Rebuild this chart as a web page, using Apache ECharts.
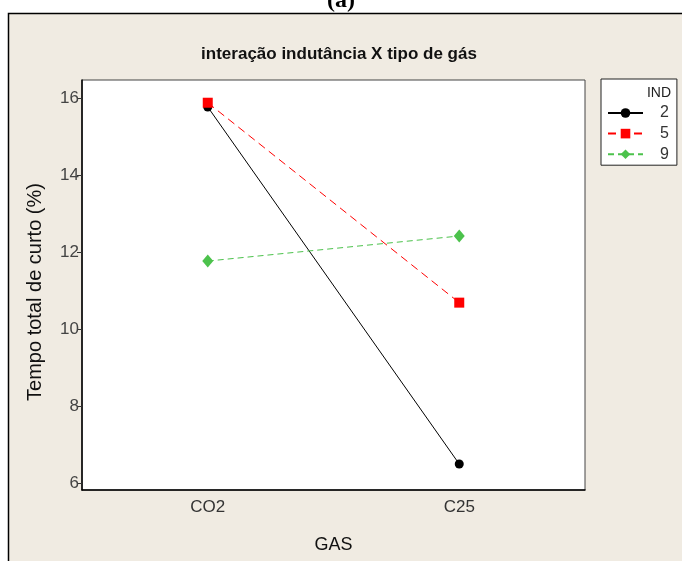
<!DOCTYPE html>
<html>
<head>
<meta charset="utf-8">
<script src="https://cdn.jsdelivr.net/npm/echarts@6/dist/echarts.min.js"></script>
<style>html,body{margin:0;padding:0;background:#fff;}#c{width:682px;height:561px;}</style>
</head>
<body>
<div id="c"></div>
<script>
var categories = ['CO2', 'C25'];
var ind2 = [15.77, 6.50];
var ind5 = [15.88, 10.69];
var ind9 = [11.77, 12.42];
var yTicks = [6, 8, 10, 12, 14, 16];

var NARROW = '"Liberation Sans Narrow",sans-serif';
var SANS = '"Liberation Sans",sans-serif';
var chart = echarts.init(document.getElementById('c'));
chart.setOption({
  backgroundColor: '#ffffff',
  animation: false,
  graphic: [
    {type: 'rect', z: -10, shape: {x: 8.5, y: 13.5, width: 700, height: 600},
     style: {fill: '#f0ebe2', stroke: '#000', lineWidth: 1.5}},
    {type: 'text', left: 'center', top: -11, z: 10,
     style: {text: '(a)', font: 'bold 24px "Liberation Serif",serif', fill: '#000'}},
    {type: 'text', x: 671, y: 93, z: 10,
     style: {text: 'IND', font: '14px ' + NARROW, fill: '#222', align: 'right', verticalAlign: 'middle'}}
  ],
  title: {
    text: 'interação indutância X tipo de gás',
    left: 334, top: 41, textAlign: 'center',
    textStyle: {fontFamily: NARROW, fontSize: 17, fontWeight: 'bold', color: '#111'}
  },
  legend: {
    orient: 'vertical', left: 601, top: 79,
    padding: [26, 8, 3, 6], itemGap: 4.6, itemWidth: 35, itemHeight: 12,
    borderColor: '#222', borderWidth: 1, backgroundColor: '#fff',
    textStyle: {fontFamily: SANS, fontSize: 16, color: '#333', padding: [0, 0, 0, 12]},
    data: ['2', '5', '9']
  },
  grid: {left: 82, top: 80, right: 97, bottom: 71, show: true, backgroundColor: '#fff', borderColor: '#444', borderWidth: 1},
  xAxis: {
    type: 'category', data: categories, boundaryGap: true,
    name: 'GAS', nameLocation: 'middle', nameGap: 46,
    nameTextStyle: {fontFamily: NARROW, fontSize: 18, color: '#111'},
    axisLine: {lineStyle: {color: '#000', width: 1.5}},
    axisTick: {alignWithLabel: true, length: 5, lineStyle: {color: '#333'}},
    axisLabel: {fontFamily: NARROW, fontSize: 17, color: '#333', margin: 9},
    splitLine: {show: false}
  },
  yAxis: {
    type: 'value', min: 5.826, max: 16.47,
    name: 'Tempo total de curto (%)', nameLocation: 'middle', nameGap: 37,
    nameTextStyle: {fontFamily: SANS, fontSize: 20, color: '#111', padding: [0, 14, 0, 0]},
    axisLine: {show: true, lineStyle: {color: '#000', width: 1.5}},
    axisTick: {show: true, length: 5, customValues: yTicks, lineStyle: {color: '#333'}},
    axisLabel: {fontFamily: SANS, fontSize: 17, color: '#444', margin: 3, customValues: yTicks},
    splitLine: {show: false}
  },
  series: [
    {name: '2', type: 'line', data: ind2, symbol: 'circle', symbolSize: 9,
     itemStyle: {color: '#000'}, lineStyle: {color: '#000', width: 1}},
    {name: '5', type: 'line', data: ind5, symbol: 'rect', symbolSize: 10,
     itemStyle: {color: '#ff0000'}, lineStyle: {color: '#ff0000', width: 1, type: [8, 5]}},
    {name: '9', type: 'line', data: ind9, symbol: 'diamond', symbolSize: [11, 13],
     itemStyle: {color: '#4cc24c'}, lineStyle: {color: '#4cc24c', width: 1, type: [6, 4]}}
  ]
});
</script>
</body>
</html>
